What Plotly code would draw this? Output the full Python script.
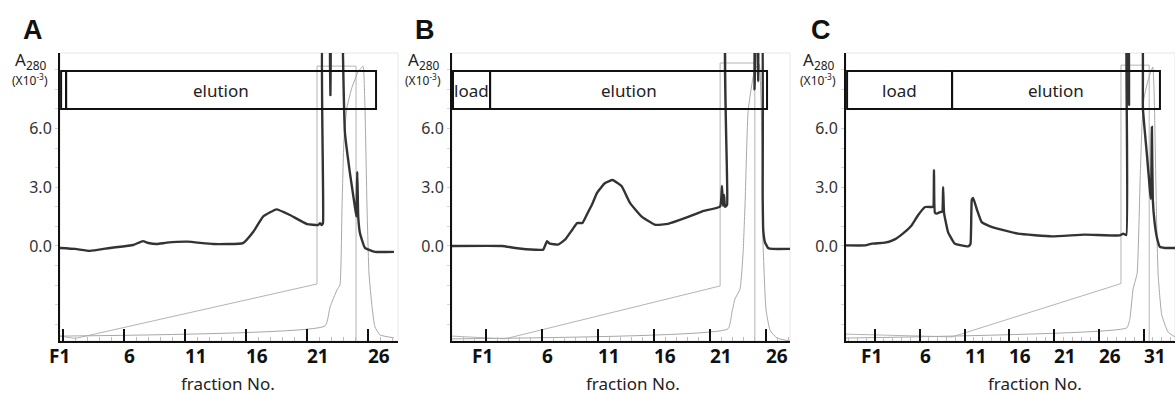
import plotly.graph_objects as go

W, H = 1175, 394
FONT = "Noto Sans"

# ---------------- data (x = fraction number, y = A280 x10^-3) ----------------
TICK_A = [1, 6, 11, 16, 21, 26]
TICK_B = [1, 6, 11, 16, 21, 26]
TICK_C = [1, 6, 11, 16, 21, 26, 31]
TICK_TEXT_A = ["F1", "6", "11", "16", "21", "26"]
TICK_TEXT_B = ["F1", "6", "11", "16", "21", "26"]
TICK_TEXT_C = ["F1", "6", "11", "16", "21", "26", "31"]
Y_TICKS = [0, 3, 6]
Y_TICK_TEXT = ["0.0", "3.0", "6.0"]

# Panel A
A_uv_x = [0.75, 2.0, 3.2, 4.85, 6.75, 7.55, 8.0, 8.7, 9.5, 11.2, 13.3, 15.75, 16.6, 17.4, 18.5,
          19.6, 21.0, 21.9, 22.07, 22.2, 22.31, 22.33, 22.85, 22.92, 23.0, 23.9, 23.95, 24.11,
          24.52, 24.93, 25.05, 25.12, 25.2, 25.34, 25.75, 26.57, 28.13]
A_uv_y = [-0.1, -0.15, -0.25, -0.1, 0.05, 0.25, 0.15, 0.1, 0.17, 0.22, 0.1, 0.15, 0.73, 1.5, 1.87,
          1.58, 1.12, 1.07, 1.16, 1.07, 1.17, 12, 12, 7.7, 12, 12, 9.7, 5.77,
          3.72, 1.99, 1.5, 3.78, 1.48, 0.66, -0.1, -0.3, -0.3]
A_grad_x = [0.75, 2.0, 21.82, 21.82, 25.02, 25.02]
A_grad_y = [-4.6, -4.72, -1.94, 9.18, 9.18, -4.85]
A_cond_x = [0.75, 22.48, 22.89, 23.46, 23.7, 23.87, 24.03, 24.28, 24.69, 25.18, 25.59, 25.75,
            25.92, 26.08, 26.33, 26.57, 26.98, 28.13]
A_cond_y = [-4.6, -4.08, -3.11, -2.24, -1.99, 1.99, 5.4, 7.09, 8.1, 8.88, 9.18, 7.09,
            2.0, -1.38, -3.11, -4.13, -4.54, -4.69]
A_phase_edges = [0.84, 1.25, 26.66]
A_phase_labels = ["", "elution"]

# Panel B
B_uv_x = [-2.04, 2.43, 3.6, 5.4, 6.1, 6.45, 6.7, 7.43, 8.05, 8.7, 9.13, 9.6, 10.0, 10.45, 10.9,
          11.6, 12.3, 13.1, 13.85, 14.9, 16.1, 17.25, 18.8, 20.3, 21.9, 22.07, 22.16, 22.25,
          22.34, 22.52, 22.55, 24.9, 24.97, 25.05, 25.2, 25.3, 25.4, 25.6, 25.7, 25.75, 25.9,
          26.18, 26.6, 28.14]
B_uv_y = [0, 0, -0.1, -0.19, -0.19, 0.24, 0.12, 0.07, 0.32, 0.83, 1.17, 1.17, 1.6, 2.1, 2.7,
          3.2, 3.37, 3.06, 2.2, 1.5, 1.08, 1.13, 1.43, 1.77, 2.02, 3.06, 2.04, 2.6,
          2.0, 2.1, 12, 12, 8.0, 12, 12, 8.4, 12, 12, 2.5, 0.82, 0.2,
          -0.1, -0.15, -0.15]
B_grad_x = [-2.04, 2.7, 21.9, 21.9, 25.0, 25.0]
B_grad_y = [-4.6, -4.74, -2.04, 9.34, 9.34, -4.85]
B_cond_x = [-2.04, 22.6, 22.96, 23.23, 23.68, 23.95, 24.13, 24.4, 24.75, 25.0, 25.38, 25.64,
            25.73, 26.0, 26.36, 26.98, 28.14]
B_cond_y = [-4.74, -4.23, -3.37, -2.7, -2.2, -0.36, 2.2, 6.9, 8.3, 9.0, 9.3, 5.2,
            0.15, -3.27, -4.3, -4.7, -4.85]
B_phase_edges = [-1.95, 1.36, 26.09]
B_phase_labels = ["load", "elution"]

# Panel C
C_uv_x = [-2.24, -0.1, 0.67, 2.1, 3.2, 4.1, 5.1, 5.8, 6.6, 7.36, 7.5, 7.58, 7.68, 7.9, 8.25,
          8.5, 8.6, 8.7, 9.15, 9.9, 11.4, 11.65, 11.8, 11.95, 12.4, 12.9, 14.0, 16.96, 20.75,
          24.4, 28.3, 28.7, 29.05, 29.1, 29.25, 29.35, 29.45, 30.7, 30.9, 31.35, 31.7, 31.8,
          31.9, 32.0, 32.2, 32.5, 32.8, 33.35, 34.48]
C_uv_y = [0.03, 0.03, 0.12, 0.17, 0.34, 0.63, 1.06, 1.57, 1.99, 1.99, 2.0, 3.88, 1.7, 1.65, 1.73,
          1.75, 3.0, 1.7, 0.71, 0.12, -0.02, 0.1, 2.35, 2.45, 1.82, 1.22, 0.97, 0.63, 0.49,
          0.58, 0.54, 0.63, 0.56, 12, 12, 7.2, 12, 12, 7.0, 4.64, 2.75, 2.4,
          6.07, 2.4, 1.22, 0.36, -0.05, -0.1, -0.1]
C_grad_x = [-2.24, 9.6, 28.45, 28.45, 31.6, 31.6]
C_grad_y = [-4.5, -4.64, -1.92, 9.23, 9.23, -4.85]
C_cond_x = [-2.24, 29.1, 29.45, 29.8, 30.25, 30.6, 30.8, 31.0, 31.5, 32.0, 32.15, 32.4, 32.6,
            33.0, 33.7, 34.48]
C_cond_y = [-4.7, -4.18, -3.7, -2.2, -1.4, 3.6, 6.17, 7.5, 8.5, 9.13, 7.86, 1.89, -1.48,
            -3.52, -4.39, -4.64]
C_phase_edges = [-2.12, 9.6, 32.8]
C_phase_labels = ["load", "elution"]

# ---------------- layout helpers ----------------
def px(x):
    return x / W

def py(y):
    return 1 - y / H

panels = [
    dict(key="", letter="A", dom=(60, 398), xr=(0.75, 28.46), tv=TICK_A, tt=TICK_TEXT_A,
         uv=(A_uv_x, A_uv_y), grad=(A_grad_x, A_grad_y), cond=(A_cond_x, A_cond_y),
         edges=A_phase_edges, labels=A_phase_labels,
         letter_x=33, ylab_x=30, xlab_x=228),
    dict(key="2", letter="B", dom=(452, 790), xr=(-2.04, 28.14), tv=TICK_B, tt=TICK_TEXT_B,
         uv=(B_uv_x, B_uv_y), grad=(B_grad_x, B_grad_y), cond=(B_cond_x, B_cond_y),
         edges=B_phase_edges, labels=B_phase_labels,
         letter_x=425, ylab_x=423, xlab_x=633),
    dict(key="3", letter="C", dom=(846, 1175), xr=(-2.24, 34.48), tv=TICK_C, tt=TICK_TEXT_C,
         uv=(C_uv_x, C_uv_y), grad=(C_grad_x, C_grad_y), cond=(C_cond_x, C_cond_y),
         edges=C_phase_edges, labels=C_phase_labels,
         letter_x=821, ylab_x=818, xlab_x=1035),
]

Y_RANGE = [-4.85, 9.85]
BOX_BOTTOM, BOX_TOP = 6.99, 8.93
Y_DOM = [py(341), py(53)]

def note(x, y, text, size, family=FONT, color="#222"):
    return dict(xref="paper", yref="paper", x=px(x), y=py(y), text=text, showarrow=False,
                xanchor="center", yanchor="middle",
                font=dict(family=family, size=size, color=color))

fig = go.Figure()
shapes = []
annotations = []
layout = {}

for p in panels:
    k = p["key"]
    xa, ya = "x" + k, "y" + k
    fig.add_trace(go.Scatter(x=p["grad"][0], y=p["grad"][1], xaxis=xa, yaxis=ya, mode="lines",
                             line=dict(color="#b4b4b4", width=1), hoverinfo="skip"))
    fig.add_trace(go.Scatter(x=p["cond"][0], y=p["cond"][1], xaxis=xa, yaxis=ya, mode="lines",
                             line=dict(color="#a8a8a8", width=1, shape="spline", smoothing=0.4),
                             hoverinfo="skip"))
    fig.add_trace(go.Scatter(x=p["uv"][0], y=p["uv"][1], xaxis=xa, yaxis=ya, mode="lines",
                             line=dict(color="#333333", width=2.4, shape="spline", smoothing=0.35),
                             hoverinfo="skip"))

    layout["xaxis" + k] = dict(
        domain=[px(p["dom"][0]), px(p["dom"][1])], range=list(p["xr"]), anchor=ya,
        automargin=False,
        showgrid=False, zeroline=False, showline=True, linecolor="#111", linewidth=2,
        tickmode="array", tickvals=p["tv"], showticklabels=False,
        ticks="inside", ticklen=12, tickwidth=1.6, tickcolor="#111",
        minor=dict(tickmode="linear", tick0=1, dtick=1, ticks="inside", ticklen=4,
                   tickcolor="#bdbdbd", tickwidth=1),
        fixedrange=True,
    )
    layout["yaxis" + k] = dict(
        domain=Y_DOM, range=Y_RANGE, anchor=xa, automargin=False,
        showgrid=False, zeroline=False, showline=True, linecolor="#111", linewidth=2,
        tickmode="array", tickvals=Y_TICKS, ticktext=Y_TICK_TEXT,
        ticks="outside", ticklen=3, tickcolor="#cfcfcf",
        tickfont=dict(family=FONT, size=16, color="#333"),
        minor=dict(tickmode="linear", tick0=0, dtick=1, ticks="outside", ticklen=3,
                   tickcolor="#d6d6d6"),
        fixedrange=True,
    )

    # x tick labels: written just to the right of each tick (F1 centred on its tick)
    for v, t in zip(p["tv"], p["tt"]):
        first = t.startswith("F")
        annotations.append(dict(xref=xa, yref="paper", x=v, y=py(356),
                                text="<b>%s</b>" % t, showarrow=False,
                                xanchor="center" if first else "left", yanchor="middle",
                                xshift=-4 if first else -2,
                                font=dict(family=FONT, size=19, color="#111")))

    shapes.append(dict(type="rect", xref=xa + " domain", yref=ya + " domain", x0=0, x1=1,
                       y0=0, y1=1, line=dict(color="#e6e6e6", width=1), layer="below"))
    e = p["edges"]
    for i, lab in enumerate(p["labels"]):
        shapes.append(dict(type="rect", xref=xa, yref=ya, x0=e[i], x1=e[i + 1],
                           y0=BOX_BOTTOM, y1=BOX_TOP, line=dict(color="#111", width=2),
                           layer="above"))
        if lab:
            annotations.append(dict(xref=xa, yref=ya, x=(e[i] + e[i + 1]) / 2,
                                    y=(BOX_BOTTOM + BOX_TOP) / 2, text=lab, showarrow=False,
                                    xanchor="center", yanchor="middle",
                                    font=dict(family=FONT, size=17, color="#222")))
    annotations.append(note(p["letter_x"], 30, "<b>%s</b>" % p["letter"], 27,
                            family="Liberation Sans", color="#111"))
    annotations.append(note(p["ylab_x"], 60, "A<sub>280</sub>", 17))
    annotations.append(note(p["ylab_x"], 80, "(X10<sup>-3</sup>)", 12))
    annotations.append(note(p["xlab_x"], 383, "fraction No.", 17))

fig.update_layout(
    width=W, height=H, margin=dict(l=0, r=0, t=0, b=0, autoexpand=False),
    paper_bgcolor="white", plot_bgcolor="white", showlegend=False,
    shapes=shapes, annotations=annotations, **layout,
)

fig.write_html("out.html", config={"displayModeBar": False})
